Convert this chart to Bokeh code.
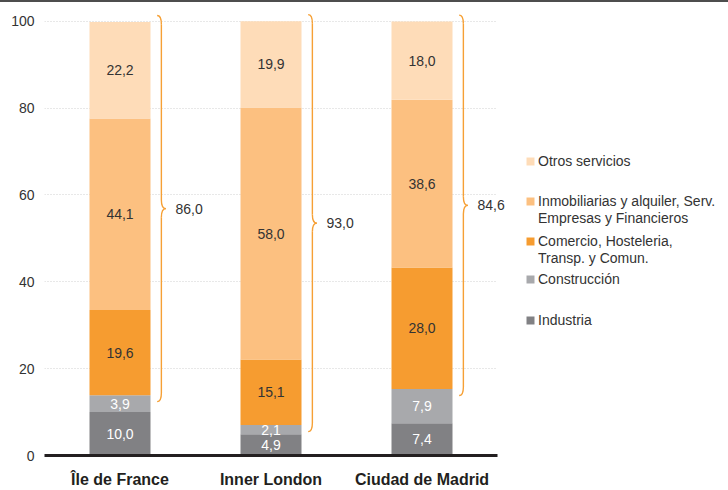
from bokeh.plotting import figure
from bokeh.models import (ColumnDataSource, Range1d, FixedTicker, Legend,
                          LegendItem)
from bokeh.embed import file_html
from bokeh.resources import INLINE
from bokeh.core.properties import value

# ---------------- data ----------------
regions = ["Île de France", "Inner London", "Ciudad de Madrid"]
industria = [10.0, 4.9, 7.4]
construccion = [3.9, 2.1, 7.9]
comercio = [19.6, 15.1, 28.0]
inmobiliarias = [44.1, 58.0, 38.6]
otros = [22.2, 19.9, 18.0]
totales_servicios = [86.0, 93.0, 84.6]
# legend labels (one list of text lines per series, bottom series first)
series_names = [["Industria"],
                ["Construcción"],
                ["Comercio, Hosteleria,", "Transp. y Comun."],
                ["Inmobiliarias y alquiler, Serv.", "Empresas y Financieros"],
                ["Otros servicios"]]
y_ticks = [0, 20, 40, 60, 80, 100]

# ---------------- styles ----------------
colors = ["#818184", "#a8a9ac", "#f69c30", "#fcc080", "#fedcb8"]
label_colors = ["#ffffff", "#ffffff", "#333333", "#333333", "#333333"]
brace_color = "#f6a035"
FONT = "Liberation Sans"

series = [industria, construccion, comercio, inmobiliarias, otros]
stackers = ["industria", "construccion", "comercio", "inmobiliarias", "otros"]
xs = list(range(len(regions)))

X_END = -0.5 + 684 / 151.0
p = figure(width=728, height=488, x_range=Range1d(-0.5, X_END),
           y_range=Range1d(0, 102), output_backend="svg",
           toolbar_location=None, min_border_left=44, min_border_right=0,
           min_border_top=10, min_border_bottom=34)
p.outline_line_color = None
p.background_fill_color = "white"
p.styles = {"border-top": "2px solid #4d4d4d"}

data = dict(x=xs)
for name, vals in zip(stackers, series):
    data[name] = vals
source = ColumnDataSource(data)
rs = p.vbar_stack(stackers, x="x", width=0.404, fill_color=colors,
                  line_color=None, source=source)

# value labels inside segments
lx, ly, lt, lc = [], [], [], []
for i in xs:
    base = 0.0
    for k, vals in enumerate(series):
        v = vals[i]
        lx.append(i)
        ly.append(base + v / 2)
        lt.append(f"{v:.1f}".replace(".", ","))
        lc.append(label_colors[k])
        base += v
p.text(x="x", y="y", text="t", text_color="c",
       source=ColumnDataSource(dict(x=lx, y=ly, t=lt, c=lc)),
       text_align="center", text_baseline="middle",
       text_font=value(FONT), text_font_size="14px")

# braces for services
lo = [a + b for a, b in zip(industria, construccion)]
hi = [sum(s[i] for s in series) for i in xs]
sx0, sy0, sx1, sy1 = [], [], [], []
qx0, qy0, qx1, qy1, qcx, qcy = [], [], [], [], [], []
bx, by, bt = [], [], []
hook = 2.0
for i in xs:
    top = hi[i] + 1.5
    bot = lo[i] - 1.5
    mid = (top + bot) / 2
    xv = i + 0.274
    xh = xv - 0.028
    xt = xv + 0.030
    sx0 += [xv, xv]; sy0 += [top - hook, mid - hook]
    sx1 += [xv, xv]; sy1 += [mid + hook, bot + hook]
    for (a, b, c, d, e, f) in [
        (xh, top, xv, top - hook, xv, top),
        (xv, mid + hook, xt, mid, xv, mid),
        (xv, mid - hook, xt, mid, xv, mid),
        (xv, bot + hook, xh, bot, xv, bot),
    ]:
        qx0.append(a); qy0.append(b); qx1.append(c); qy1.append(d)
        qcx.append(e); qcy.append(f)
    bx.append(i + 0.367)
    by.append(mid)
    bt.append(f"{totales_servicios[i]:.1f}".replace(".", ","))

p.segment(x0=sx0, y0=sy0, x1=sx1, y1=sy1, line_color=brace_color,
          line_width=1.4)
p.quadratic(x0=qx0, y0=qy0, x1=qx1, y1=qy1, cx=qcx, cy=qcy,
            line_color=brace_color, line_width=1.4)
p.text(x="x", y="y", text="t",
       source=ColumnDataSource(dict(x=bx, y=by, t=bt)),
       text_align="left", text_baseline="middle",
       text_font=value(FONT), text_font_size="14px", text_color="#333333")

# axes
p.xaxis.ticker = FixedTicker(ticks=xs)
p.xaxis.bounds = (-0.5, 2.5)
p.xaxis.major_label_overrides = {i: r for i, r in enumerate(regions)}
p.xaxis.major_tick_line_color = None
p.xaxis.major_tick_out = 0
p.xaxis.major_tick_in = 0
p.xaxis.minor_tick_line_color = None
p.xaxis.axis_line_color = "#231f20"
p.xaxis.axis_line_width = 3
p.xaxis.major_label_standoff = 15
p.xaxis.major_label_text_font = FONT
p.xaxis.major_label_text_font_size = "16px"
p.xaxis.major_label_text_font_style = "bold"
p.xaxis.major_label_text_color = "#231f20"

p.yaxis.ticker = FixedTicker(ticks=y_ticks)
p.yaxis.axis_line_color = None
p.yaxis.major_tick_line_color = None
p.yaxis.major_tick_out = 0
p.yaxis.major_tick_in = 0
p.yaxis.minor_tick_line_color = None
p.yaxis.major_label_standoff = 10
p.yaxis.major_label_text_font = FONT
p.yaxis.major_label_text_font_size = "14px"
p.yaxis.major_label_text_color = "#333333"

p.xgrid.grid_line_color = None
grid_ticks = [t for t in y_ticks if t > 0]
if hasattr(p.ygrid[0], "cross_bounds"):
    p.ygrid.ticker = FixedTicker(ticks=grid_ticks)
    p.ygrid.cross_bounds = (-0.5, 2.5)
    p.ygrid.grid_line_color = "#d0d0d0"
    p.ygrid.grid_line_dash = "1 2"
    p.ygrid.grid_line_width = 1
else:
    p.ygrid.grid_line_color = None
    p.segment(x0=[-0.5] * len(grid_ticks), x1=[2.5] * len(grid_ticks),
              y0=grid_ticks, y1=grid_ticks, line_color="#d0d0d0",
              line_dash="1 2", line_width=1, level="underlay")

# legend: one small legend per series, top series first; continuation
# lines use an invisible swatch so that the coloured square sits on line 1
ghost = p.vbar(x=[], top=[], width=0.1, fill_alpha=0, line_alpha=0)
legend_bottoms = [127, 168, 189, 229, 286]  # px above frame bottom
for k in reversed(range(len(series))):
    lines = series_names[k]
    items = [LegendItem(label=lines[0], renderers=[rs[k]])]
    items += [LegendItem(label=t, renderers=[ghost]) for t in lines[1:]]
    lg = Legend(items=items, location=(481, legend_bottoms[k]), padding=0,
                margin=0, glyph_width=10, glyph_height=10, label_standoff=3,
                spacing=0, border_line_color=None, background_fill_alpha=0,
                label_text_font=FONT, label_text_font_size="14px",
                label_text_color="#333333", label_height=17)
    p.add_layout(lg)

open("out.html", "w").write(file_html(p, INLINE))
